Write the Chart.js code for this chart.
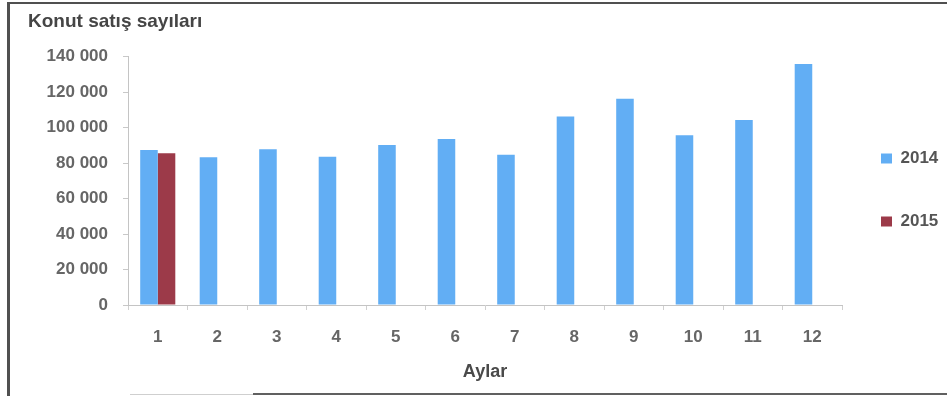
<!DOCTYPE html>
<html>
<head>
<meta charset="utf-8">
<script src="https://cdn.jsdelivr.net/npm/chart.js@4/dist/chart.umd.min.js"></script>
<style>
  html, body { margin: 0; padding: 0; background: #fff; }
  #wrap { position: relative; width: 947px; height: 396px; overflow: hidden; background: #fff; }
  #chart { position: absolute; left: 0; top: 0; }
  .rule { position: absolute; }
  .rule.left { left: 7px; top: 2px; width: 3px; height: 394px; background: #505050; }
  .rule.top { left: 7px; top: 2px; width: 940px; height: 2px; background: #505050; }
  .rule.bottom-light { left: 130px; top: 394px; width: 124px; height: 1px; background: #cfcfcf; }
  .rule.bottom-dark { left: 253px; top: 393px; width: 694px; height: 2px; background: #606060; }
</style>
</head>
<body>
<div id="wrap">
  <canvas id="chart" width="947" height="396"></canvas>
  <div class="rule left"></div>
  <div class="rule top"></div>
  <div class="rule bottom-light"></div>
  <div class="rule bottom-dark"></div>
</div>
<script>
// Monthly housing sales (konut satış sayıları)
const months = ['1', '2', '3', '4', '5', '6', '7', '8', '9', '10', '11', '12'];
const sales2014 = [87500, 83300, 87900, 83600, 90300, 93600, 84700, 106300, 116300, 95800, 104400, 135900];
const sales2015 = [85600, null, null, null, null, null, null, null, null, null, null, null];
const seriesNames = ['2014', '2015'];
const yMin = 0, yMax = 140000, yStep = 20000;

const FONT = '"Liberation Sans", Arial, sans-serif';
const BLUE = '#62aef4';
const RED = '#9c3a49';

// thousands with a space: 140 000
const fmt = v => String(v).replace(/\B(?=(\d{3})+(?!\d))/g, ' ');

// move the legend block slightly up and to the left
const legendNudge = {
  id: 'legendNudge',
  afterLayout(chart) {
    const l = chart.legend;
    if (l) { l.top -= 8; l.bottom -= 8; l.left -= 7; l.right -= 7; }
  }
};

new Chart(document.getElementById('chart'), {
  type: 'bar',
  data: {
    labels: months,
    datasets: [
      { label: seriesNames[0], data: sales2014, backgroundColor: BLUE, borderWidth: 0 },
      { label: seriesNames[1], data: sales2015, backgroundColor: RED, borderWidth: 0 }
    ]
  },
  options: {
    responsive: false,
    animation: false,
    layout: { padding: { left: 28, right: 0, top: 0, bottom: 0 } },
    datasets: { bar: { categoryPercentage: 0.59, barPercentage: 1.0 } },
    plugins: {
      title: {
        display: true,
        text: 'Konut satış sayıları',
        align: 'start',
        color: '#454545',
        font: { family: FONT, size: 19, weight: 'bold' },
        padding: { top: 10, bottom: 24 }
      },
      legend: {
        position: 'right',
        maxWidth: 105,
        labels: {
          boxWidth: 11,
          boxHeight: 10,
          padding: 46,
          color: '#555555',
          font: { family: FONT, size: 17, weight: 'bold' }
        }
      },
      tooltip: { enabled: false }
    },
    scales: {
      x: {
        grid: { display: true, drawOnChartArea: false, drawTicks: true, tickLength: 5, color: '#d0d0d0' },
        border: { display: true, color: '#c4c4c4', width: 1 },
        ticks: { padding: 17, color: '#666666', font: { family: FONT, size: 17, weight: 'bold' } },
        title: {
          display: true,
          text: 'Aylar',
          color: '#4a4a4a',
          font: { family: FONT, size: 18, weight: 'bold' },
          padding: { top: 0, bottom: 13 }
        },
        afterFit(scale) { scale.height = 91; }
      },
      y: {
        min: yMin,
        max: yMax,
        grid: { display: true, drawOnChartArea: false, drawTicks: true, tickLength: 5, color: '#c8c8c8' },
        border: { display: true, color: '#c4c4c4', width: 1 },
        ticks: {
          stepSize: yStep,
          padding: 15,
          color: '#666666',
          font: { family: FONT, size: 17, weight: 'bold' },
          callback: v => fmt(v)
        },
        afterFit(scale) { scale.width = 100; }
      }
    }
  },
  plugins: [legendNudge]
});
</script>
</body>
</html>
